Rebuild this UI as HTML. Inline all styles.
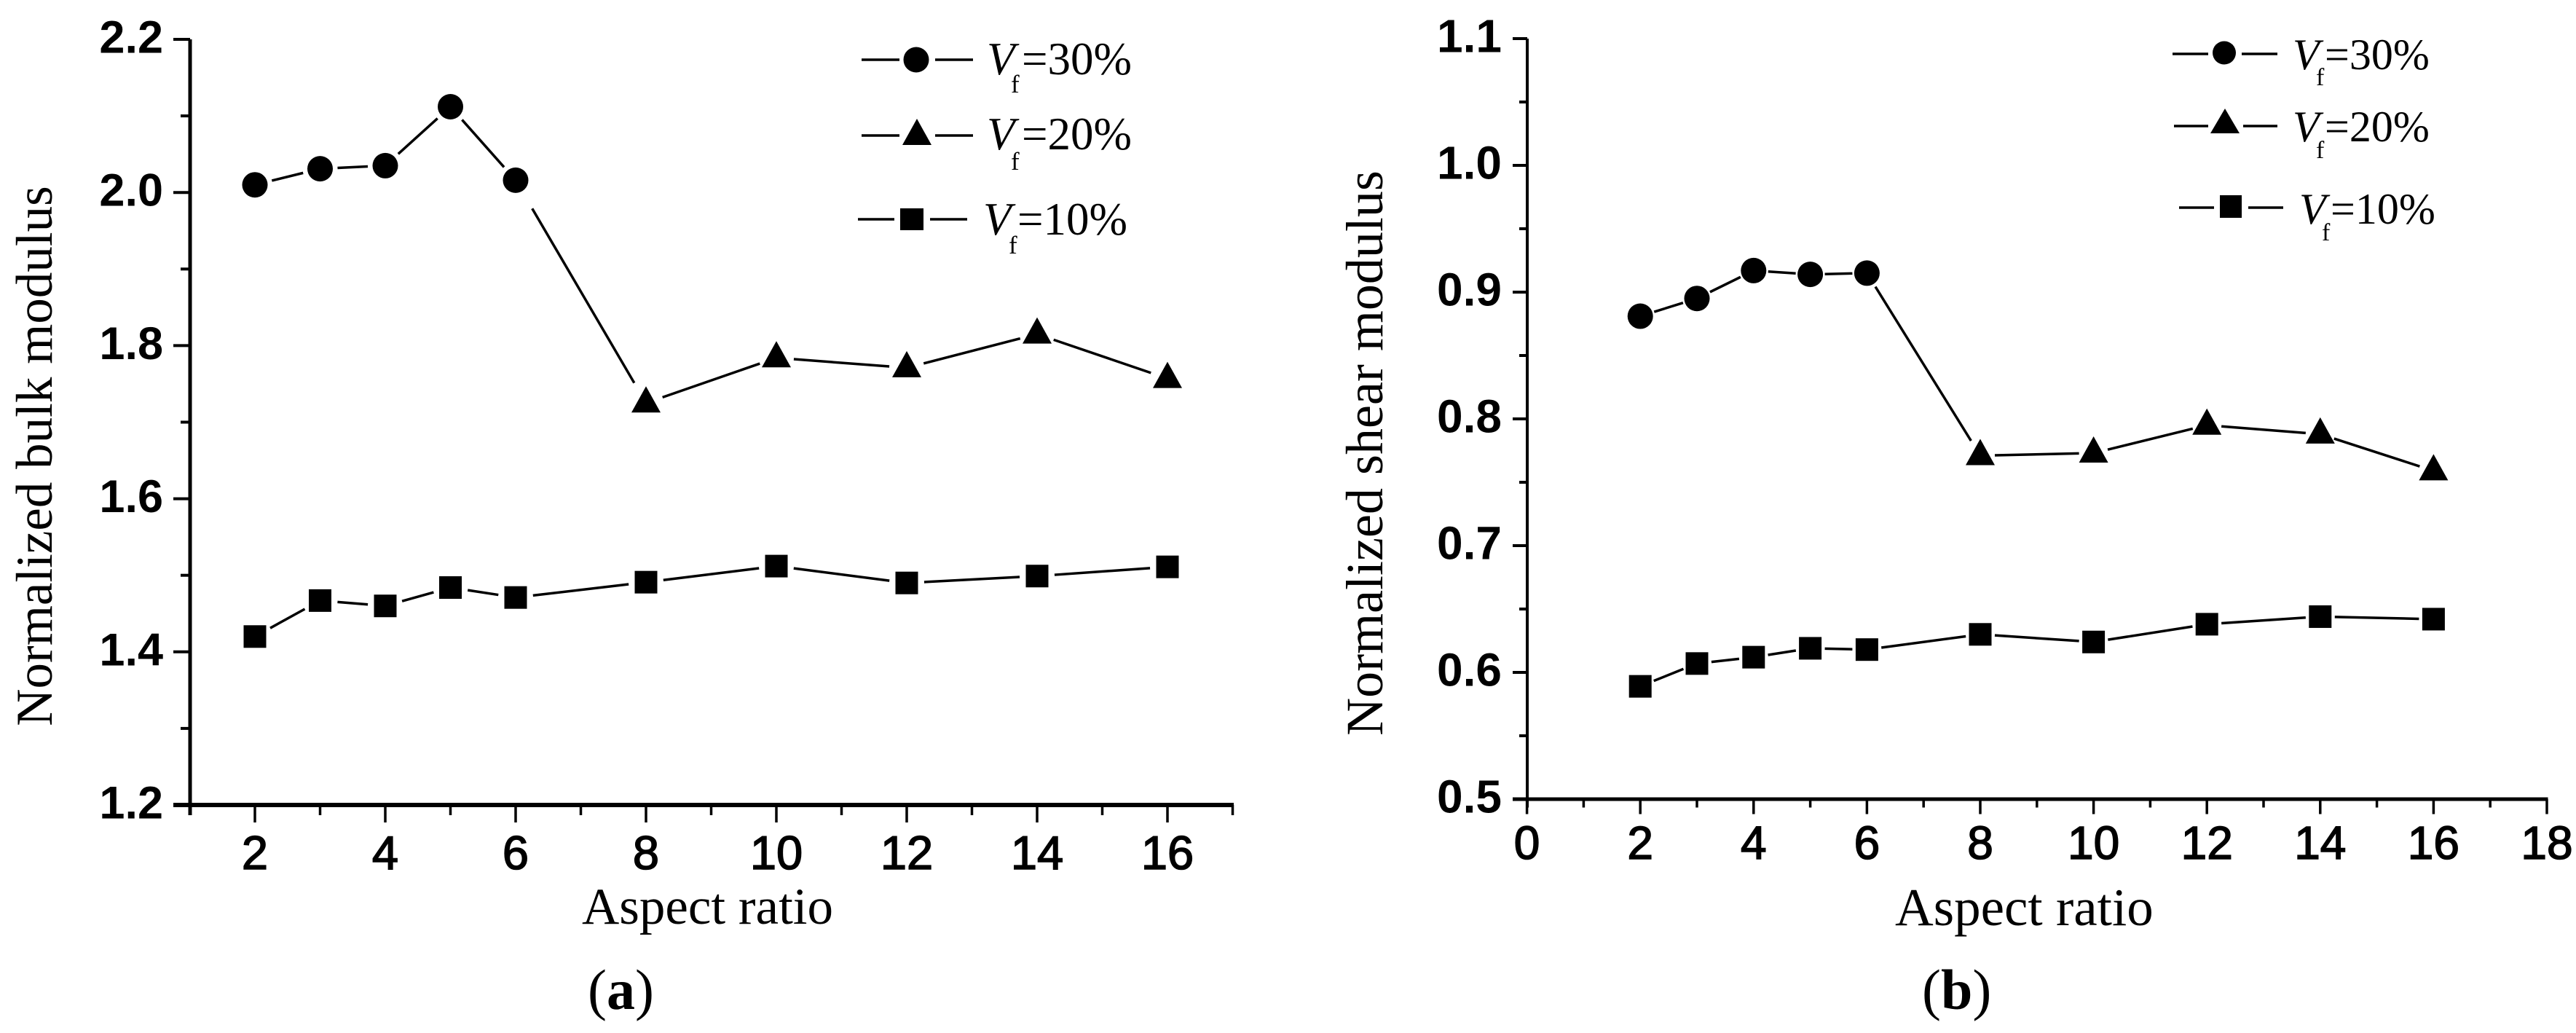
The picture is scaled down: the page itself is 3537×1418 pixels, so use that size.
<!DOCTYPE html>
<html lang="en">
<head>
<meta charset="utf-8">
<title>Normalized bulk and shear modulus vs aspect ratio</title>
<style>
html,body{margin:0;padding:0;background:#fff;width:3537px;height:1418px;overflow:hidden}
svg{display:block}
.sans{font-family:"Liberation Sans",Arial,sans-serif;fill:#000}
.serif{font-family:"Liberation Serif","Times New Roman",serif;fill:#000}
.leg{font-size:63px}
.legb{font-size:60px}
.sub{font-size:35px}
.subb{font-size:34px}
</style>
</head>
<body>
<svg id="figure" width="3537" height="1418" viewBox="0 0 3537 1418" xmlns="http://www.w3.org/2000/svg">
<rect x="0" y="0" width="3537" height="1418" fill="#fff"/>
<g id="chart-a"></g>
<g id="chart-b"></g>

<text class="serif" x="799" y="1268" font-size="71">Aspect ratio</text>
<text class="serif" x="2602" y="1270" font-size="73">Aspect ratio</text>
<text class="serif" transform="translate(71,626) rotate(-90)" text-anchor="middle" font-size="71">Normalized bulk modulus</text>
<text class="serif" transform="translate(1898,622) rotate(-90)" text-anchor="middle" font-size="72">Normalized shear modulus</text>
<text class="serif" x="807" y="1385" font-size="78">(<tspan font-weight="bold">a</tspan>)</text>
<text class="serif" x="2639" y="1385" font-size="78">(<tspan font-weight="bold">b</tspan>)</text>

<g stroke-width="0">
  <g>
    <path d="M1183 82H1235M1284 82H1336" stroke="#000" stroke-width="3.5" fill="none"/>
    <circle cx="1258" cy="82" r="17.5" fill="#000"/>
    <text class="serif leg" x="1355" y="102" font-style="italic">V</text>
    <text class="serif sub" x="1388" y="127">f</text>
    <text class="serif leg" x="1403" y="102">=30%</text>
  </g>
  <g>
    <path d="M1183 186H1235M1284 186H1336" stroke="#000" stroke-width="3.5" fill="none"/>
    <polygon points="1259,163 1279,199 1239,199" fill="#000"/>
    <text class="serif leg" x="1355" y="205" font-style="italic">V</text>
    <text class="serif sub" x="1388" y="233">f</text>
    <text class="serif leg" x="1403" y="205">=20%</text>
  </g>
  <g>
    <path d="M1178 301H1228M1277 301H1328" stroke="#000" stroke-width="3.5" fill="none"/>
    <rect x="1236" y="286" width="32" height="30" fill="#000"/>
    <text class="serif leg" x="1350" y="322" font-style="italic">V</text>
    <text class="serif sub" x="1385" y="348">f</text>
    <text class="serif leg" x="1397" y="322">=10%</text>
  </g>
</g>

<g>
  <g>
    <path d="M2983 74H3032M3078 74H3127" stroke="#000" stroke-width="3.5" fill="none"/>
    <circle cx="3054" cy="72.5" r="16" fill="#000"/>
    <text class="serif legb" x="3148" y="95" font-style="italic">V</text>
    <text class="serif subb" x="3180" y="117">f</text>
    <text class="serif legb" x="3192" y="95">=30%</text>
  </g>
  <g>
    <path d="M2985 173H3032M3080 173H3127" stroke="#000" stroke-width="3.5" fill="none"/>
    <polygon points="3055,149 3075,183 3035,183" fill="#000"/>
    <text class="serif legb" x="3148" y="194" font-style="italic">V</text>
    <text class="serif subb" x="3180" y="217">f</text>
    <text class="serif legb" x="3192" y="194">=20%</text>
  </g>
  <g>
    <path d="M2992 285H3040M3087 285H3135" stroke="#000" stroke-width="3.5" fill="none"/>
    <rect x="3048" y="268" width="30" height="31" fill="#000"/>
    <text class="serif legb" x="3157" y="307" font-style="italic">V</text>
    <text class="serif subb" x="3188" y="330">f</text>
    <text class="serif legb" x="3200" y="307">=10%</text>
  </g>
</g>
</svg>
<script>
// Aspect-ratio categories
const aspectLow = [2, 3, 4, 5, 6];
const aspectHigh = [8, 10, 12, 14, 16];
const aspectAll = [2, 3, 4, 5, 6, 8, 10, 12, 14, 16];

// Panel (a): normalized bulk modulus
const bulkVf30 = [2.010, 2.031, 2.035, 2.112, 2.016];
const bulkVf20 = [1.725, 1.784, 1.771, 1.815, 1.757];
const bulkVf10 = [1.420, 1.467, 1.460, 1.484, 1.471, 1.491, 1.512, 1.490, 1.499, 1.511];
const bulkYMajor = ['1.2', '1.4', '1.6', '1.8', '2.0', '2.2'];
const bulkYMinor = [1.3, 1.5, 1.7, 1.9, 2.1];
const bulkXMajor = [2, 4, 6, 8, 10, 12, 14, 16];
const bulkXMinor = [1, 3, 5, 7, 9, 11, 13, 15, 17];

// Panel (b): normalized shear modulus
const shearVf30 = [0.881, 0.895, 0.917, 0.914, 0.915];
const shearVf20 = [0.771, 0.773, 0.795, 0.788, 0.759];
const shearVf10 = [0.589, 0.607, 0.612, 0.619, 0.618, 0.630, 0.624, 0.638, 0.644, 0.642];
const shearYMajor = ['0.5', '0.6', '0.7', '0.8', '0.9', '1.0', '1.1'];
const shearYMinor = [0.55, 0.65, 0.75, 0.85, 0.95, 1.05];
const shearXMajor = [0, 2, 4, 6, 8, 10, 12, 14, 16, 18];
const shearXMinor = [1, 3, 5, 7, 9, 11, 13, 15, 17];

const NS = 'http://www.w3.org/2000/svg';
function make(parent, tag, attrs, text) {
  const el = document.createElementNS(NS, tag);
  for (const k in attrs) el.setAttribute(k, attrs[k]);
  if (text !== undefined) el.textContent = text;
  parent.appendChild(el);
  return el;
}

function drawChart(root, c) {
  const X = v => c.x0 + (v - c.xMin) * c.xUnit;
  const Y = v => c.yBottom - (v - c.yMin) * c.yUnit;

  const yAxis = make(root, 'line', {x1: c.axisX, x2: c.axisX, y1: Y(c.yMax), y2: c.yBottom + c.minorLen + c.base / 2, stroke: '#000', 'stroke-width': c.yAxisW});
  
  

  const xAxis = make(root, 'line', {x1: c.axisX - c.majorY, x2: X(c.xMax) + 1.5, y1: c.yBottom, y2: c.yBottom, stroke: '#000', 'stroke-width': c.base});
  
  

  c.yMajor.forEach(label => {
    const v = parseFloat(label);
    const tick = make(root, 'line', {x1: c.axisX - c.majorY, x2: c.axisX, y1: Y(v), y2: Y(v), stroke: '#000', 'stroke-width': 4});
    
    
    const t = make(root, 'text', {x: c.yLabelX, y: Y(v) + 18.5, 'text-anchor': 'end', 'font-size': c.fontY, 'font-weight': 'bold', class: 'sans'}, label);
    
    
  });
  c.yMinor.forEach(v => {
    const tick = make(root, 'line', {x1: c.axisX - c.minorY, x2: c.axisX, y1: Y(v), y2: Y(v), stroke: '#000', 'stroke-width': 4});
    
    
  });
  c.xMajor.forEach(v => {
    const tick = make(root, 'line', {x1: X(v), x2: X(v), y1: c.yBottom, y2: c.yBottom + c.majorLen + c.base / 2, stroke: '#000', 'stroke-width': 3.5});
    
    
    const t = make(root, 'text', {x: X(v), y: c.xLabelY, 'text-anchor': 'middle', 'font-size': c.fontX, class: 'sans', stroke: '#000', 'stroke-width': 1.6}, String(v));
    
    
  });
  c.xMinor.forEach(v => {
    const tick = make(root, 'line', {x1: X(v), x2: X(v), y1: c.yBottom, y2: c.yBottom + c.minorLen + c.base / 2, stroke: '#000', 'stroke-width': 3.5});
    
    
  });

  function segment(name, xa, ya, xb, yb, gapA, gapB) {
    const ax = X(xa), ay = Y(ya), bx = X(xb), by = Y(yb);
    const d = Math.hypot(bx - ax, by - ay);
    const ux = (bx - ax) / d, uy = (by - ay) / d;
    const seg = make(root, 'line', {x1: ax + ux * gapA, y1: ay + uy * gapA, x2: bx - ux * gapB, y2: by - uy * gapB, stroke: '#000', 'stroke-width': 3.5});
    
    
  }

  // Upper curve: circles (Vf=30%) joined to triangles (Vf=20%)
  const upperX = aspectLow.concat(aspectHigh);
  const upperY = c.vf30.concat(c.vf20);
  for (let i = 0; i < upperX.length - 1; i++) {
    const isBreak = i === aspectLow.length - 1;
    segment('upper-curve-segment', upperX[i], upperY[i], upperX[i + 1], upperY[i + 1],
      isBreak ? c.breakGapA : c.gap, isBreak ? c.breakGapB : c.gap);
  }
  // Lower curve: squares (Vf=10%)
  for (let i = 0; i < aspectAll.length - 1; i++) {
    segment('vf10-curve-segment', aspectAll[i], c.vf10[i], aspectAll[i + 1], c.vf10[i + 1], c.gap, c.gap);
  }

  aspectLow.forEach((a, i) => {
    const m = make(root, 'circle', {cx: X(a), cy: Y(c.vf30[i]), r: 17.5, fill: '#000'});
    
    
  });
  aspectHigh.forEach((a, i) => {
    const px = X(a), py = Y(c.vf20[i]);
    const m = make(root, 'polygon', {points: `${px},${py - 23} ${px + 20},${py + 13} ${px - 20},${py + 13}`, fill: '#000'});
    
    
  });
  aspectAll.forEach((a, i) => {
    const m = make(root, 'rect', {x: X(a) - 15.5, y: Y(c.vf10[i]) - 15.5, width: 31, height: 31, fill: '#000'});
    
    
  });
}

drawChart(document.getElementById('chart-a'), {
  x0: 260.5, xMin: 1, xMax: 17, xUnit: 89.5,
  yBottom: 1105, yMin: 1.2, yMax: 2.2, yUnit: 1051,
  axisX: 261, yAxisW: 5, base: 6,
  majorY: 23, minorY: 13, majorLen: 21, minorLen: 11,
  yLabelX: 224, xLabelY: 1193, fontY: 63, fontX: 65,
  yMajor: bulkYMajor, yMinor: bulkYMinor, xMajor: bulkXMajor, xMinor: bulkXMinor,
  vf30: bulkVf30, vf20: bulkVf20, vf10: bulkVf10,
  gap: 24, breakGapA: 45, breakGapB: 32
});
drawChart(document.getElementById('chart-b'), {
  x0: 2096.6, xMin: 0, xMax: 18, xUnit: 77.8,
  yBottom: 1097, yMin: 0.5, yMax: 1.1, yUnit: 1740,
  axisX: 2097, yAxisW: 4, base: 5,
  majorY: 20, minorY: 11, majorLen: 18, minorLen: 9,
  yLabelX: 2062, xLabelY: 1179, fontY: 64, fontX: 64,
  yMajor: shearYMajor, yMinor: shearYMinor, xMajor: shearXMajor, xMinor: shearXMinor,
  vf30: shearVf30, vf20: shearVf20, vf10: shearVf10,
  gap: 20, breakGapA: 22, breakGapB: 24
});
</script>
</body>
</html>
